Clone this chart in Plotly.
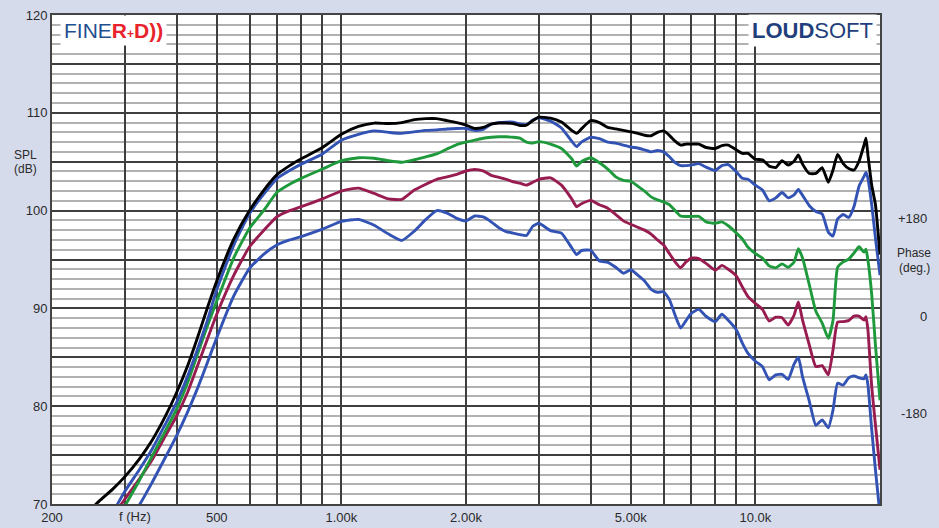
import plotly.graph_objects as go

# ---------------- data ----------------
freq_hz = [240, 250, 260, 280, 300, 325, 350, 375, 400, 425, 450, 475, 500, 550, 600, 650, 700, 750, 800, 900,
           1000, 1100, 1200, 1300, 1400, 1500, 1600, 1700, 1800, 1900, 2000, 2100, 2200, 2300, 2400, 2500, 2600,
           2700, 2800, 2900, 3000, 3200, 3400, 3600, 3700, 3800, 4000, 4200, 4400, 4600, 4800, 5000, 5200, 5400,
           5600, 5800, 6000, 6200, 6400, 6600, 6800, 7000, 7300, 7600, 8000, 8300, 8600, 9000, 9300, 9600, 10000,
           10400, 10800, 11200, 11600, 12000, 12400, 12700, 13000, 13500, 14000, 14500, 15000, 15400, 15800,
           16300, 16800, 17300, 17800, 18300, 18500, 18700, 19100, 19500, 20000]

spl_black = [68.9, 69.6, 70.3, 71.5, 72.8, 74.6, 76.6, 78.9, 81.4, 84.1, 87.1, 90.1, 92.8, 97.1, 100.0, 102.1, 103.7,
             104.6, 105.3, 106.45, 107.8, 108.6, 108.95, 108.9, 109.0, 109.3, 109.4, 109.4, 109.2, 109.0, 108.75,
             108.4, 108.5, 108.85, 108.95, 108.95, 108.9, 108.7, 108.75, 109.2, 109.55, 109.45, 109.05, 108.2,
             107.9, 108.35, 109.2, 109.0, 108.5, 108.35, 108.2, 108.05, 107.9, 107.7, 107.65, 108.0, 108.15, 107.7,
             107.1, 106.7, 106.8, 106.8, 106.8, 106.45, 106.35, 106.65, 106.7, 106.2, 105.85, 105.85, 105.25,
             105.2, 104.55, 104.4, 105.1, 104.65, 105.05, 105.7, 104.75, 103.8, 103.8, 104.4, 102.9, 104.15,
             105.75, 104.8, 104.3, 104.15, 105.05, 106.7, 107.4, 105.7, 102.6, 100.6, 95.5]

spl_blue_top = [64.6, 65.8, 67.0, 69.1, 71.3, 73.5, 75.7, 78.1, 80.4, 83.05, 85.9, 88.8, 91.9, 96.5, 99.7, 101.7,
                103.3, 104.1, 104.75, 105.8, 107.2, 107.8, 108.15, 108.0, 107.9, 108.05, 108.2, 108.25, 108.35,
                108.4, 108.4, 108.2, 108.3, 108.85, 109.0, 109.05, 109.05, 108.85, 108.8, 109.25, 109.5, 109.15,
                108.45, 107.1, 106.55, 107.0, 107.5, 107.35, 107.0, 106.9, 106.7, 106.5, 106.4, 106.2, 106.0,
                106.15, 106.0, 105.5, 104.9, 104.6, 104.6, 104.65, 104.8, 104.45, 104.1, 104.6, 104.7, 103.95,
                103.3, 103.2, 102.6, 102.1, 101.0, 101.3, 101.85, 101.3, 101.6, 102.15, 101.55, 100.5, 99.9, 99.65,
                97.8, 97.4, 99.15, 99.6, 99.3, 100.4, 102.5, 103.5, 103.9, 103.3, 100.6, 97.2, 93.4]

spl_green = [62.8, 64.1, 65.3, 67.6, 69.8, 72.4, 75.0, 77.4, 79.7, 82.4, 85.4, 88.25, 90.75, 95.2, 98.2, 100.05,
             101.9, 102.7, 103.3, 104.25, 105.1, 105.4, 105.35, 105.1, 104.95, 105.2, 105.5, 105.8, 106.3, 106.75,
             107.0, 107.2, 107.4, 107.5, 107.55, 107.55, 107.5, 107.4, 107.0, 106.9, 107.05, 106.8, 106.35, 105.3,
             104.55, 105.0, 105.4, 104.9, 104.25, 103.45, 103.1, 103.0, 102.5, 102.0, 101.4, 101.1, 100.9, 100.6,
             100.0, 99.45, 99.4, 99.4, 99.4, 98.85, 98.7, 98.85, 98.45, 97.7, 97.1, 96.25, 95.6, 95.15, 94.35,
             94.15, 94.55, 94.2, 94.75, 96.1, 95.15, 92.4, 89.7, 88.5, 86.95, 88.8, 94.2, 94.75, 95.05, 95.65,
             96.3, 95.75, 96.05, 94.95, 91.4, 86.25, 80.6]

spl_maroon = [65.0, 66.0, 67.0, 68.7, 70.5, 72.55, 74.6, 76.9, 79.0, 81.4, 84.2, 86.9, 89.4, 93.4, 96.3, 98.0, 99.4,
              100.0, 100.4, 101.2, 102.0, 102.3, 101.75, 101.2, 101.15, 102.1, 102.7, 103.2, 103.45, 103.7, 104.05,
              104.2, 104.05, 103.6, 103.4, 103.2, 102.95, 102.8, 102.6, 102.9, 103.2, 103.35, 102.6, 101.2, 100.4,
              100.7, 101.05, 100.6, 100.25, 99.6, 98.95, 98.6, 98.3, 98.0, 97.6, 97.0, 96.5, 95.6, 94.75, 94.15,
              94.75, 95.15, 95.1, 94.6, 93.9, 94.4, 94.0, 93.3, 92.2, 91.2, 90.5, 89.9, 88.7, 89.1, 89.05, 88.3,
              89.3, 90.65, 88.8, 86.25, 84.05, 84.15, 83.2, 85.75, 88.6, 88.65, 88.75, 89.2, 89.2, 88.8, 89.15,
              87.8, 82.0, 78.1, 73.5]

spl_blue_low = [62.7, 63.7, 64.7, 66.5, 68.2, 69.9, 72.3, 74.7, 77.0, 79.4, 81.9, 84.5, 87.0, 91.3, 94.1, 95.55,
                96.5, 97.0, 97.35, 98.1, 98.9, 99.1, 98.5, 97.6, 96.95, 97.9, 99.1, 100.0, 99.75, 99.2, 98.95,
                99.45, 99.35, 98.85, 98.25, 97.85, 97.7, 97.55, 97.45, 98.4, 98.7, 97.95, 97.7, 96.2, 95.5, 95.9,
                95.95, 94.85, 94.7, 94.2, 93.6, 93.95, 93.4, 92.8, 91.95, 91.65, 91.7, 90.9, 89.3, 88.0, 88.75,
                89.5, 89.9, 89.2, 88.65, 89.4, 88.8, 87.8, 86.45, 85.4, 84.6, 84.05, 82.7, 83.2, 83.25, 82.75,
                84.3, 85.0, 83.0, 80.5, 78.05, 78.6, 77.8, 79.6, 82.35, 82.15, 82.9, 83.1, 82.9, 82.8, 83.2, 82.2,
                77.6, 73.5, 68.9]

x_grid_hz = [200, 300, 400, 500, 600, 700, 800, 900, 1000, 2000, 3000, 4000, 5000, 6000, 7000, 8000, 9000,
             10000, 20000]
x_tick_text = ["200", "", "", "500", "", "", "", "", "1.00k", "2.00k", "", "", "5.00k", "", "", "", "",
               "10.0k", ""]
y_tick_vals = [70, 75, 80, 85, 90, 95, 100, 105, 110, 115, 120]
y_tick_text = ["70", "", "80", "", "90", "", "100", "", "110", "", "120"]
phase_labels = ["+180", "0", "-180"]

# ---------------- figure ----------------
W, H = 939, 528
L, R, T, B = 52, 880, 15, 504
pw, ph = R - L, B - T


def px(xp):
    return (xp - L) / pw


def py(yp):
    return (B - yp) / ph


series = [
    (spl_blue_low, "#3252b4"),
    (spl_maroon, "#981c50"),
    (spl_green, "#1e9a3c"),
    (spl_blue_top, "#3252b4"),
    (spl_black, "#000000"),
]

fig = go.Figure()
for vals, col in series:
    fig.add_trace(go.Scatter(x=freq_hz, y=vals, mode="lines",
                             line=dict(color=col, width=2.9, shape="spline", smoothing=0.5),
                             hoverinfo="skip", showlegend=False))

font_main = "Liberation Sans, Arial, sans-serif"

fig.update_layout(
    width=W, height=H,
    margin=dict(l=L, r=W - R, t=T, b=H - B, pad=0, autoexpand=False),
    paper_bgcolor="#d6dbec",
    plot_bgcolor="#ffffff",
    showlegend=False,
    font=dict(family=font_main, size=13, color="#2a2a2a"),
    xaxis=dict(type="log", range=[2.30103, 4.30103], automargin=False,
               tickmode="array", tickvals=x_grid_hz, ticktext=x_tick_text,
               showgrid=True, gridcolor="#3e3e3e", gridwidth=2.2,
               ticks="", showline=True, mirror=True, linecolor="#444444", linewidth=2,
               zeroline=False, tickfont=dict(size=13, color="#2a2a2a")),
    yaxis=dict(range=[70, 120], automargin=False, tickmode="array", tickvals=y_tick_vals, ticktext=y_tick_text,
               showgrid=True, gridcolor="#3e3e3e", gridwidth=2.2,
               minor=dict(tickmode="linear", tick0=70, dtick=1, showgrid=True,
                          gridcolor="#b2b2b2", gridwidth=1.5, ticks=""),
               ticks="", showline=True, mirror=True, linecolor="#444444", linewidth=2,
               zeroline=False, tickfont=dict(size=13, color="#2a2a2a")),
)

ann = []
# logos
ann.append(dict(xref="paper", yref="paper", x=px(60), y=py(30), xanchor="left", yanchor="middle",
                text="<span style='color:#1f4f8f'>FINE</span><b style='color:#e8232b'>R<span style='font-size:12px'>+</span>D))</b>",
                showarrow=False, font=dict(family=font_main, size=21),
                bgcolor="#ffffff", borderpad=3))
ann.append(dict(xref="paper", yref="paper", x=px(877), y=py(30), xanchor="right", yanchor="middle",
                text="<b>LOUD</b>SOFT", showarrow=False,
                font=dict(family=font_main, size=22, color="#1f3f7c"),
                bgcolor="#ffffff", borderpad=3))
# axis titles
ann.append(dict(xref="paper", yref="paper", x=px(25), y=py(155), text="SPL", showarrow=False,
                xanchor="center", yanchor="middle", font=dict(size=12)))
ann.append(dict(xref="paper", yref="paper", x=px(25), y=py(169), text="(dB)", showarrow=False,
                xanchor="center", yanchor="middle", font=dict(size=12)))
ann.append(dict(xref="paper", yref="paper", x=px(135), y=py(516), text="f (Hz)", showarrow=False,
                xanchor="center", yanchor="middle", font=dict(size=13)))
# phase axis labels (right)
for lab, yp in zip(phase_labels, [218, 316, 413]):
    ann.append(dict(xref="paper", yref="paper", x=px(929), y=py(yp), text=lab, showarrow=False,
                    xanchor="right", yanchor="middle", font=dict(size=13)))
ann.append(dict(xref="paper", yref="paper", x=px(914), y=py(253), text="Phase", showarrow=False,
                xanchor="center", yanchor="middle", font=dict(size=12)))
ann.append(dict(xref="paper", yref="paper", x=px(914), y=py(268), text="(deg.)", showarrow=False,
                xanchor="center", yanchor="middle", font=dict(size=12)))
fig.update_layout(annotations=ann)

fig.write_html("out.html", config={"displayModeBar": False},
               post_script="document.body.style.margin='0px';document.body.style.overflow='hidden';")
